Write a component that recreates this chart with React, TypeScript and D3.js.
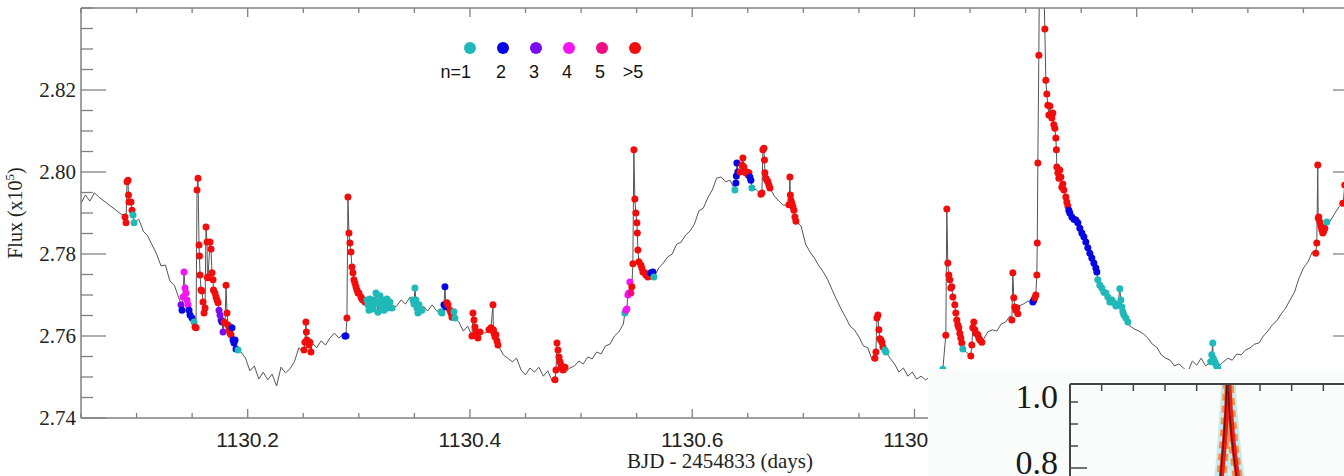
import React from "react";
import * as d3 from "d3";

const _ = null;

// Light curve (quiescent cadence, every 0.004 d from 1130.05); null = flare-covered / gap
const baseStart = 1130.05;
const baseStep = 0.004;
const baseFlux: (number | null)[] = [
  2.7924, 2.7944, 2.7929, 2.7949, 2.7939, _, _, _, _, _,
  _, _, _, 2.7885, 2.7856, 2.7844, 2.7822, 2.7800, 2.7771, 2.7773,
  2.7734, 2.7724, 2.7693, _, _, _, _, _, _, _,
  _, _, _, _, _, _, 2.7561, 2.7546, 2.7515, 2.7527,
  2.7495, 2.7512, 2.7493, 2.7507, 2.7478, 2.7524, 2.7510, 2.7520, 2.7537, 2.7571,
  2.7561, _, 2.7583, 2.7571, 2.7588, 2.7578, 2.7595, 2.7607, 2.7595, 2.7605,
  _, _, _, _, _, _, _, _, _, _,
  _, 2.7673, 2.7688, 2.7678, 2.7695, _, _, 2.7673, 2.7661, 2.7676,
  2.7661, _, _, _, _, 2.7634, 2.7612, 2.7624, _, _,
  _, 2.7607, _, _, _, 2.7554, 2.7546, 2.7537, 2.7546, 2.7517,
  2.7505, 2.7522, 2.7512, 2.7524, 2.7502, 2.7515, 2.7490, _, _, 2.7512,
  2.7522, 2.7527, 2.7539, 2.7532, 2.7549, 2.7544, 2.7561, 2.7556, 2.7576, 2.7580,
  2.7600, 2.7610, 2.7629, _, _, _, _, _, _, _,
  2.7766, 2.7778, 2.7793, 2.7800, 2.7824, 2.7829, 2.7846, 2.7856, 2.7873, 2.7905,
  2.7912, 2.7937, 2.7956, 2.7985, 2.7988, 2.7976, 2.7980, _, _, _,
  _, _, 2.7956, _, _, _, 2.7941, 2.7929, 2.7919, _,
  _, _, 2.7868, 2.7824, 2.7805, 2.7790, 2.7771, 2.7756, 2.7737, 2.7712,
  2.7688, 2.7666, 2.7646, 2.7624, 2.7615, 2.7598, 2.7576, 2.7571, 2.7541, _,
  _, _, 2.7546, 2.7532, 2.7512, 2.7522, 2.7502, 2.7512, 2.7495, 2.7502,
  2.7493, 2.7500, 2.7495, 2.7502, _, _, _, _, _, _,
  _, _, _, _, 2.7610, 2.7615, 2.7612, 2.7629, 2.7634, 2.7649,
  _, 2.7673, 2.7678, 2.7685, _, _, _, _, _, _,
  _, _, _, _, _, _, _, _, _, _,
  _, _, _, _, _, _, 2.7624, 2.7617, 2.7612, 2.7605,
  2.7595, 2.7580, 2.7573, 2.7554, 2.7546, 2.7541, 2.7527, 2.7532, 2.7522, 2.7512,
  2.7539, 2.7529, 2.7546, 2.7527, _, _, 2.7527, 2.7537, 2.7546, 2.7541,
  2.7556, 2.7554, 2.7566, 2.7571, 2.7580, 2.7583, 2.7600, 2.7612, 2.7627, 2.7637,
  2.7654, 2.7668, 2.7688, 2.7707, 2.7741, 2.7766, 2.7780, 2.7805, _, _,
  _, 2.7880, 2.7898, 2.7915, 2.7932, 2.7941,
];

// Flare points: [time, flux, n]  (n = 6 means ">5")
const flare1 = [[1130.0896,2.7890,6],[1130.0905,2.7876,6],[1130.0914,2.7976,6],[1130.0923,2.7980,6],[1130.0927,2.7944,6],[1130.0932,2.7927,6],[1130.0950,2.7927,6],[1130.0959,2.7907,6],[1130.0968,2.7895,1],[1130.0977,2.7876,1]];
const flare2 = [[1130.1400,2.7676,3],[1130.1409,2.7663,2],[1130.1418,2.7695,4],[1130.1427,2.7756,4],[1130.1436,2.7717,4],[1130.1445,2.7705,4],[1130.1454,2.7688,4],[1130.1463,2.7676,4],[1130.1472,2.7663,2],[1130.1481,2.7651,2],[1130.1499,2.7644,2],[1130.1517,2.7634,1],[1130.1526,2.7622,6],[1130.1535,2.7620,6],[1130.1544,2.7956,6],[1130.1553,2.7985,6],[1130.1562,2.7822,6],[1130.1566,2.7795,6],[1130.1571,2.7749,6],[1130.1580,2.7712,6],[1130.1589,2.7710,6],[1130.1598,2.7683,6],[1130.1607,2.7656,6],[1130.1616,2.7668,6],[1130.1625,2.7866,6],[1130.1634,2.7829,6],[1130.1638,2.7742,6],[1130.1643,2.7744,6],[1130.1661,2.7829,6],[1130.1670,2.7812,6],[1130.1679,2.7754,6],[1130.1688,2.7737,6],[1130.1692,2.7712,6],[1130.1706,2.7705,6],[1130.1715,2.7695,6],[1130.1724,2.7688,6],[1130.1733,2.7681,6],[1130.1742,2.7663,3],[1130.1751,2.7651,3],[1130.1760,2.7639,3],[1130.1769,2.7634,2],[1130.1778,2.7610,3],[1130.1787,2.7634,6],[1130.1796,2.7632,6],[1130.1805,2.7724,6],[1130.1814,2.7656,6],[1130.1823,2.7627,6],[1130.1832,2.7615,6],[1130.1841,2.7607,6],[1130.1850,2.7603,6],[1130.1859,2.7620,2],[1130.1868,2.7590,2],[1130.1877,2.7583,2],[1130.1886,2.7590,2],[1130.1895,2.7568,2],[1130.1913,2.7566,1]];
const flare3 = [[1130.2506,2.7566,6],[1130.2515,2.7585,6],[1130.2524,2.7634,6],[1130.2528,2.7610,6],[1130.2533,2.7590,6],[1130.2542,2.7585,6],[1130.2551,2.7578,6],[1130.2560,2.7585,6],[1130.2569,2.7561,6]];
const flare4 = [[1130.2875,2.7600,2],[1130.2884,2.7600,2],[1130.2893,2.7644,6],[1130.2902,2.7939,6],[1130.2911,2.7851,6],[1130.2920,2.7827,6],[1130.2929,2.7805,6],[1130.2938,2.7768,6],[1130.2947,2.7754,6],[1130.2956,2.7737,6],[1130.2965,2.7729,6],[1130.2974,2.7720,6],[1130.2983,2.7712,6],[1130.2992,2.7705,6],[1130.3001,2.7705,6],[1130.3019,2.7695,6],[1130.3028,2.7690,6],[1130.3037,2.7688,6],[1130.3055,2.7683,6]];
const flare5 = [[1130.3073,2.7688,1],[1130.3082,2.7676,1],[1130.3091,2.7663,1],[1130.3100,2.7690,1],[1130.3118,2.7678,1],[1130.3127,2.7666,1],[1130.3136,2.7688,1],[1130.3154,2.7705,1],[1130.3163,2.7678,1],[1130.3172,2.7658,1],[1130.3181,2.7683,1],[1130.3190,2.7698,1],[1130.3208,2.7671,1],[1130.3217,2.7688,1],[1130.3226,2.7663,1],[1130.3244,2.7678,1],[1130.3253,2.7690,1],[1130.3262,2.7668,1],[1130.3280,2.7683,1],[1130.3298,2.7668,1]];
const flare6 = [[1130.3487,2.7688,1],[1130.3496,2.7678,1],[1130.3505,2.7717,1],[1130.3514,2.7688,1],[1130.3523,2.7668,1],[1130.3532,2.7656,1],[1130.3541,2.7676,1],[1130.3550,2.7663,1],[1130.3568,2.7663,1]];
const flare7 = [[1130.3739,2.7659,1],[1130.3748,2.7656,1],[1130.3766,2.7676,2],[1130.3775,2.7720,2],[1130.3784,2.7671,2],[1130.3793,2.7681,6],[1130.3802,2.7676,6],[1130.3820,2.7663,6],[1130.3829,2.7656,6],[1130.3838,2.7646,6],[1130.3856,2.7659,1],[1130.3865,2.7644,1]];
const flare8 = [[1130.4018,2.7600,6],[1130.4027,2.7656,6],[1130.4036,2.7639,6],[1130.4045,2.7622,6],[1130.4054,2.7610,6],[1130.4063,2.7600,6],[1130.4072,2.7595,6],[1130.4090,2.7610,6]];
const flare9 = [[1130.4171,2.7615,6],[1130.4189,2.7620,6],[1130.4207,2.7676,6],[1130.4211,2.7615,6],[1130.4216,2.7607,6],[1130.4225,2.7598,6],[1130.4234,2.7603,6],[1130.4243,2.7588,6],[1130.4252,2.7578,6]];
const flare10 = [[1130.4765,2.7493,6],[1130.4774,2.7517,6],[1130.4783,2.7583,6],[1130.4792,2.7566,6],[1130.4801,2.7549,6],[1130.4810,2.7537,6],[1130.4819,2.7529,6],[1130.4828,2.7522,6],[1130.4837,2.7517,6],[1130.4855,2.7524,6]];
const flare11 = [[1130.5394,2.7656,1],[1130.5403,2.7663,4],[1130.5412,2.7666,4],[1130.5421,2.7700,4],[1130.5430,2.7705,4],[1130.5439,2.7732,4],[1130.5448,2.7705,5],[1130.5457,2.7720,6],[1130.5466,2.7776,6],[1130.5475,2.8054,6],[1130.5484,2.7934,6],[1130.5493,2.7900,6],[1130.5502,2.7876,6],[1130.5506,2.7851,6],[1130.5511,2.7810,6],[1130.5520,2.7781,6],[1130.5538,2.7773,6],[1130.5547,2.7766,6],[1130.5556,2.7756,6],[1130.5574,2.7754,6],[1130.5583,2.7749,6],[1130.5601,2.7744,6],[1130.5619,2.7746,6],[1130.5628,2.7754,2],[1130.5646,2.7756,2],[1130.5655,2.7744,1]];
const flare12 = [[1130.6384,2.7956,1],[1130.6393,2.7973,2],[1130.6397,2.7990,2],[1130.6402,2.8022,2],[1130.6411,2.8000,2],[1130.6429,2.8000,6],[1130.6447,2.8017,6],[1130.6456,2.8034,6],[1130.6465,2.8012,6],[1130.6474,2.8000,6],[1130.6483,2.7998,6],[1130.6492,2.8000,6],[1130.6501,2.7993,6],[1130.6510,2.7998,6],[1130.6519,2.7988,2],[1130.6528,2.7980,2],[1130.6537,2.7961,1]];
const flare13 = [[1130.6618,2.7946,6],[1130.6627,2.7949,6],[1130.6636,2.8054,6],[1130.6645,2.8058,6],[1130.6650,2.8029,6],[1130.6654,2.7998,6],[1130.6663,2.7985,6],[1130.6672,2.7980,6],[1130.6681,2.7976,6],[1130.6690,2.7968,6],[1130.6699,2.7961,6]];
const flare14 = [[1130.6870,2.7920,6],[1130.6879,2.7988,6],[1130.6883,2.7944,6],[1130.6888,2.7932,6],[1130.6897,2.7924,6],[1130.6906,2.7915,6],[1130.6915,2.7907,6],[1130.6924,2.7890,6],[1130.6933,2.7880,6]];
const flare15 = [[1130.7644,2.7546,6],[1130.7653,2.7561,6],[1130.7662,2.7644,6],[1130.7671,2.7651,6],[1130.7680,2.7615,6],[1130.7689,2.7593,6],[1130.7698,2.7590,6],[1130.7707,2.7585,6],[1130.7716,2.7573,6],[1130.7734,2.7566,1],[1130.7743,2.7561,1]];
const flare16 = [[1130.8246,2.7512,1],[1130.8255,2.7519,1],[1130.8282,2.7602,6],[1130.8291,2.7910,6],[1130.8300,2.7778,6],[1130.8309,2.7749,6],[1130.8318,2.7737,6],[1130.8327,2.7717,6],[1130.8336,2.7720,6],[1130.8345,2.7695,6],[1130.8363,2.7676,6],[1130.8372,2.7656,6],[1130.8381,2.7639,6],[1130.8390,2.7627,6],[1130.8399,2.7620,6],[1130.8408,2.7607,6],[1130.8417,2.7595,6],[1130.8426,2.7583,6],[1130.8435,2.7568,1]];
const flare17 = [[1130.8507,2.7551,6],[1130.8516,2.7578,6],[1130.8525,2.7620,6],[1130.8534,2.7634,6],[1130.8543,2.7615,6],[1130.8552,2.7607,6],[1130.8570,2.7603,6],[1130.8579,2.7595,6],[1130.8588,2.7590,6],[1130.8606,2.7585,6]];
const flare18 = [[1130.8876,2.7639,6],[1130.8885,2.7754,6],[1130.8894,2.7693,6],[1130.8903,2.7671,6],[1130.8912,2.7663,6],[1130.8921,2.7668,6],[1130.8930,2.7654,6]];
const flare19 = [[1130.9065,2.7683,2],[1130.9074,2.7688,2],[1130.9083,2.7693,6],[1130.9092,2.7700,6],[1130.9101,2.7749,6],[1130.9105,2.7827,6],[1130.9110,2.8022,6],[1130.9119,2.8285,6],[1130.9128,2.8620,6],[1130.9155,2.8580,6],[1130.9173,2.8349,6],[1130.9182,2.8224,6],[1130.9191,2.8190,6],[1130.9200,2.8163,6],[1130.9209,2.8139,6],[1130.9218,2.8161,6],[1130.9227,2.8139,6],[1130.9236,2.8132,6],[1130.9245,2.8144,6],[1130.9254,2.8115,6],[1130.9263,2.8107,6],[1130.9272,2.8083,6],[1130.9277,2.8054,6],[1130.9281,2.8012,6],[1130.9290,2.7998,6],[1130.9299,2.7985,6],[1130.9308,2.8005,6],[1130.9317,2.7988,6],[1130.9326,2.7963,6],[1130.9335,2.7971,6],[1130.9344,2.7956,6],[1130.9362,2.7939,6],[1130.9371,2.7927,6],[1130.9380,2.7917,6],[1130.9389,2.7907,2],[1130.9398,2.7900,2],[1130.9416,2.7890,2],[1130.9434,2.7885,2],[1130.9452,2.7883,2],[1130.9470,2.7876,2],[1130.9488,2.7863,2],[1130.9506,2.7851,2],[1130.9524,2.7842,2],[1130.9542,2.7829,2],[1130.9560,2.7815,2],[1130.9578,2.7802,2],[1130.9596,2.7790,2],[1130.9614,2.7778,2],[1130.9632,2.7766,2],[1130.9641,2.7756,2],[1130.9650,2.7737,1],[1130.9668,2.7724,1],[1130.9686,2.7717,1],[1130.9704,2.7707,1],[1130.9722,2.7705,1],[1130.9740,2.7695,1],[1130.9758,2.7683,1],[1130.9776,2.7688,1],[1130.9794,2.7681,1],[1130.9812,2.7673,1],[1130.9830,2.7676,1],[1130.9848,2.7715,1],[1130.9857,2.7688,1],[1130.9866,2.7671,1],[1130.9875,2.7659,1],[1130.9884,2.7651,1],[1130.9902,2.7644,1],[1130.9920,2.7634,1]];
const flare20 = [[1131.0666,2.7537,1],[1131.0675,2.7554,1],[1131.0684,2.7583,1],[1131.0688,2.7546,1],[1131.0693,2.7541,1],[1131.0702,2.7537,1],[1131.0711,2.7532,1],[1131.0720,2.7527,1],[1131.0729,2.7522,1]];
const flare21 = [[1131.1611,2.7802,6],[1131.1620,2.7827,6],[1131.1629,2.8017,6],[1131.1633,2.7888,6],[1131.1638,2.7890,6],[1131.1647,2.7878,6],[1131.1656,2.7868,6],[1131.1665,2.7859,6],[1131.1674,2.7851,6],[1131.1683,2.7856,6],[1131.1692,2.7863,6],[1131.1710,2.7878,1]];
const flare22 = [[1131.1854,2.7924,6],[1131.1872,2.7968,6]];

const flares = [flare1, flare2, flare3, flare4, flare5, flare6, flare7, flare8, flare9, flare10, flare11,
  flare12, flare13, flare14, flare15, flare16, flare17, flare18, flare19, flare20, flare21, flare22];

const yTicks = [2.74, 2.76, 2.78, 2.8, 2.82];
const xTicks = [1130.2, 1130.4, 1130.6, 1130.8, 1131.0];
const legendLabels = ["n=1", "2", "3", "4", "5", ">5"];
const classColors = ["#444", "#1fb9b9", "#0606e4", "#7a0cf2", "#f414f4", "#f00c80", "#f20d0d"];

// Inset (normalized flare template)
const insetTime = [-1.2, -0.6, -0.35, -0.22, -0.12, -0.05, 0, 0.06, 0.15, 0.28, 0.45, 0.8, 1.4];
const insetFlux = [0.40, 0.55, 0.68, 0.77, 0.88, 0.98, 1.08, 0.98, 0.88, 0.78, 0.68, 0.55, 0.40];
const insetXTicks = [-4, -3, -2, -1, 0, 1, 2, 3];
const insetYTicks = [1.0, 0.9333, 0.8667, 0.8];
const insetYLabels = [1.0, 0.8];

const SERIF = "'Liberation Serif', 'Times New Roman', serif";
const SANS = "'Liberation Sans', Arial, Helvetica, sans-serif";

export default function App() {
  const L = 81, R = 1359, T = 8, B = 418;
  const x = d3.scaleLinear().domain([1130.05, 1131.2]).range([L, R]);
  const y = d3.scaleLinear().domain([2.74, 2.84]).range([B, T]);

  type P = { t: number; f: number; n: number };
  const pts: P[] = [];
  baseFlux.forEach((f, i) => {
    if (f !== null) pts.push({ t: baseStart + i * baseStep, f, n: 0 });
  });
  const fpts: P[] = [];
  flares.forEach((ev) => ev.forEach((p) => fpts.push({ t: p[0], f: p[1], n: p[2] })));
  const all = pts.concat(fpts).sort((a, b) => a.t - b.t);
  const line = d3.line<P>().x((d) => x(d.t)).y((d) => y(d.f));

  const minorX = d3.range(0, 24).map((i) => 1130.05 + i * 0.05);
  const minorY = d3.range(0, 21).map((i) => 2.74 + i * 0.005);
  const isMajorX = (v: number) => xTicks.some((m) => Math.abs(m - v) < 1e-6);
  const isMajorY = (v: number) => yTicks.some((m) => Math.abs(m - v) < 1e-6);

  const axisCol = "#808080";

  // inset scales
  const ix = d3.scaleLinear().domain([-5, 4]).range([1070, 1355]);
  const iy = d3.scaleLinear().domain([0.8, 1.0]).range([468, 402]);
  const iline = d3.line<number>().x((_d, i) => ix(insetTime[i])).y((d) => iy(d));
  const ipath = iline(insetFlux) || "";

  return (
    <svg width={1344} height={476} style={{ position: "absolute", left: 0, top: 0, background: "#fff" }}>
      <defs>
        <clipPath id="plotclip">
          <rect x={L} y={T} width={R - L} height={B - T} />
        </clipPath>
        <clipPath id="insetclip">
          <rect x={1070} y={384} width={300} height={100} />
        </clipPath>
      </defs>
      <rect x={0} y={0} width={1344} height={476} fill="#fff" />

      {/* light curve */}
      <g clipPath="url(#plotclip)">
        <path d={line(all) || ""} fill="none" stroke="#555" strokeWidth={1} />
        {fpts.map((p, i) => (
          <circle key={i} cx={x(p.t)} cy={y(p.f)} r={3.5} fill={classColors[p.n]} />
        ))}
      </g>

      {/* frame */}
      <line x1={L} x2={L} y1={T} y2={B} stroke={axisCol} strokeWidth={1.5} />
      <line x1={L} x2={R} y1={T} y2={T} stroke={axisCol} strokeWidth={1.5} />
      <line x1={L} x2={R} y1={B} y2={B} stroke={axisCol} strokeWidth={1.5} />
      <line x1={R} x2={R} y1={T} y2={B} stroke={axisCol} strokeWidth={1.5} />

      {minorY.map((v, i) => {
        const len = isMajorY(v) ? 25 : 12;
        return (
          <g key={"yt" + i}>
            <line x1={L} x2={L + len} y1={y(v)} y2={y(v)} stroke={axisCol} strokeWidth={1.3} />
            <line x1={R} x2={R - len - 1} y1={y(v)} y2={y(v)} stroke={axisCol} strokeWidth={1.3} />
          </g>
        );
      })}
      {minorX.map((v, i) => {
        const len = isMajorX(v) ? 9 : 5;
        return (
          <g key={"xt" + i}>
            <line x1={x(v)} x2={x(v)} y1={T} y2={T + len} stroke={axisCol} strokeWidth={1.3} />
            <line x1={x(v)} x2={x(v)} y1={B} y2={B - len} stroke={axisCol} strokeWidth={1.3} />
          </g>
        );
      })}

      {yTicks.map((v) => (
        <text key={"yl" + v} x={L - 5} y={y(v)} dy="0.35em" textAnchor="end" fontFamily={SERIF} fontSize={21} fill="#222">
          {d3.format(".2f")(v)}
        </text>
      ))}
      {xTicks.map((v) => (
        <text key={"xl" + v} x={x(v)} y={447} textAnchor="middle" fontFamily={SANS} fontSize={21} fill="#222">
          {d3.format(".1f")(v)}
        </text>
      ))}
      <text x={(L + R) / 2} y={468} textAnchor="middle" fontFamily={SERIF} fontSize={21} fill="#222">
        BJD - 2454833 (days)
      </text>
      <text transform={`translate(22,${(T + B) / 2}) rotate(-90)`} textAnchor="middle" fontFamily={SERIF} fontSize={20} fill="#222">
        Flux (x10<tspan dy={-8} fontSize={13}>5</tspan><tspan dy={8}>)</tspan>
      </text>

      {/* legend */}
      {legendLabels.map((lab, i) => {
        const cx = 470 + i * 33;
        return (
          <g key={"lg" + i}>
            <circle cx={cx} cy={48} r={6} fill={classColors[i + 1]} />
            <text x={i === 0 ? cx + 1 : cx - 2} y={78} textAnchor={i === 0 ? "end" : "middle"} fontFamily={SANS} fontSize={18} fill="#111">
              {lab}
            </text>
          </g>
        );
      })}

      {/* inset panel */}
      <rect x={928} y={369} width={420} height={110} fill="#fafcfc" />
      <g clipPath="url(#insetclip)">
        <path d={ipath} fill="none" stroke="#c4ecf0" strokeWidth={14} strokeLinejoin="round" />
        <path d={ipath} fill="none" stroke="#f0924a" strokeWidth={10} strokeDasharray="7 5" strokeLinejoin="round" />
        <path d={ipath} fill="none" stroke="#e8201a" strokeWidth={5} strokeLinejoin="round" />
        <path d={ipath} fill="none" stroke="#7a0a0a" strokeWidth={1.5} strokeLinejoin="round" transform="translate(-1,0)" />
      </g>
      <line x1={1070} x2={1344} y1={384} y2={384} stroke="#444" strokeWidth={2} />
      <line x1={1070} x2={1070} y1={384} y2={476} stroke="#444" strokeWidth={2} />
      {insetXTicks.map((v) => (
        <line key={"ixt" + v} x1={ix(v)} x2={ix(v)} y1={384} y2={391} stroke="#444" strokeWidth={1.5} />
      ))}
      {insetYTicks.map((v, i) => (
        <line key={"iyt" + i} x1={1070} x2={1070 + (i === 3 ? 17 : 8)} y1={iy(v)} y2={iy(v)} stroke="#444" strokeWidth={1.5} />
      ))}
      {insetYLabels.map((v) => (
        <text key={"iyl" + v} x={1058} y={iy(v) + 6} textAnchor="end" fontFamily={SERIF} fontSize={34} fill="#1a1a1a">
          {d3.format(".1f")(v)}
        </text>
      ))}
    </svg>
  );
}
